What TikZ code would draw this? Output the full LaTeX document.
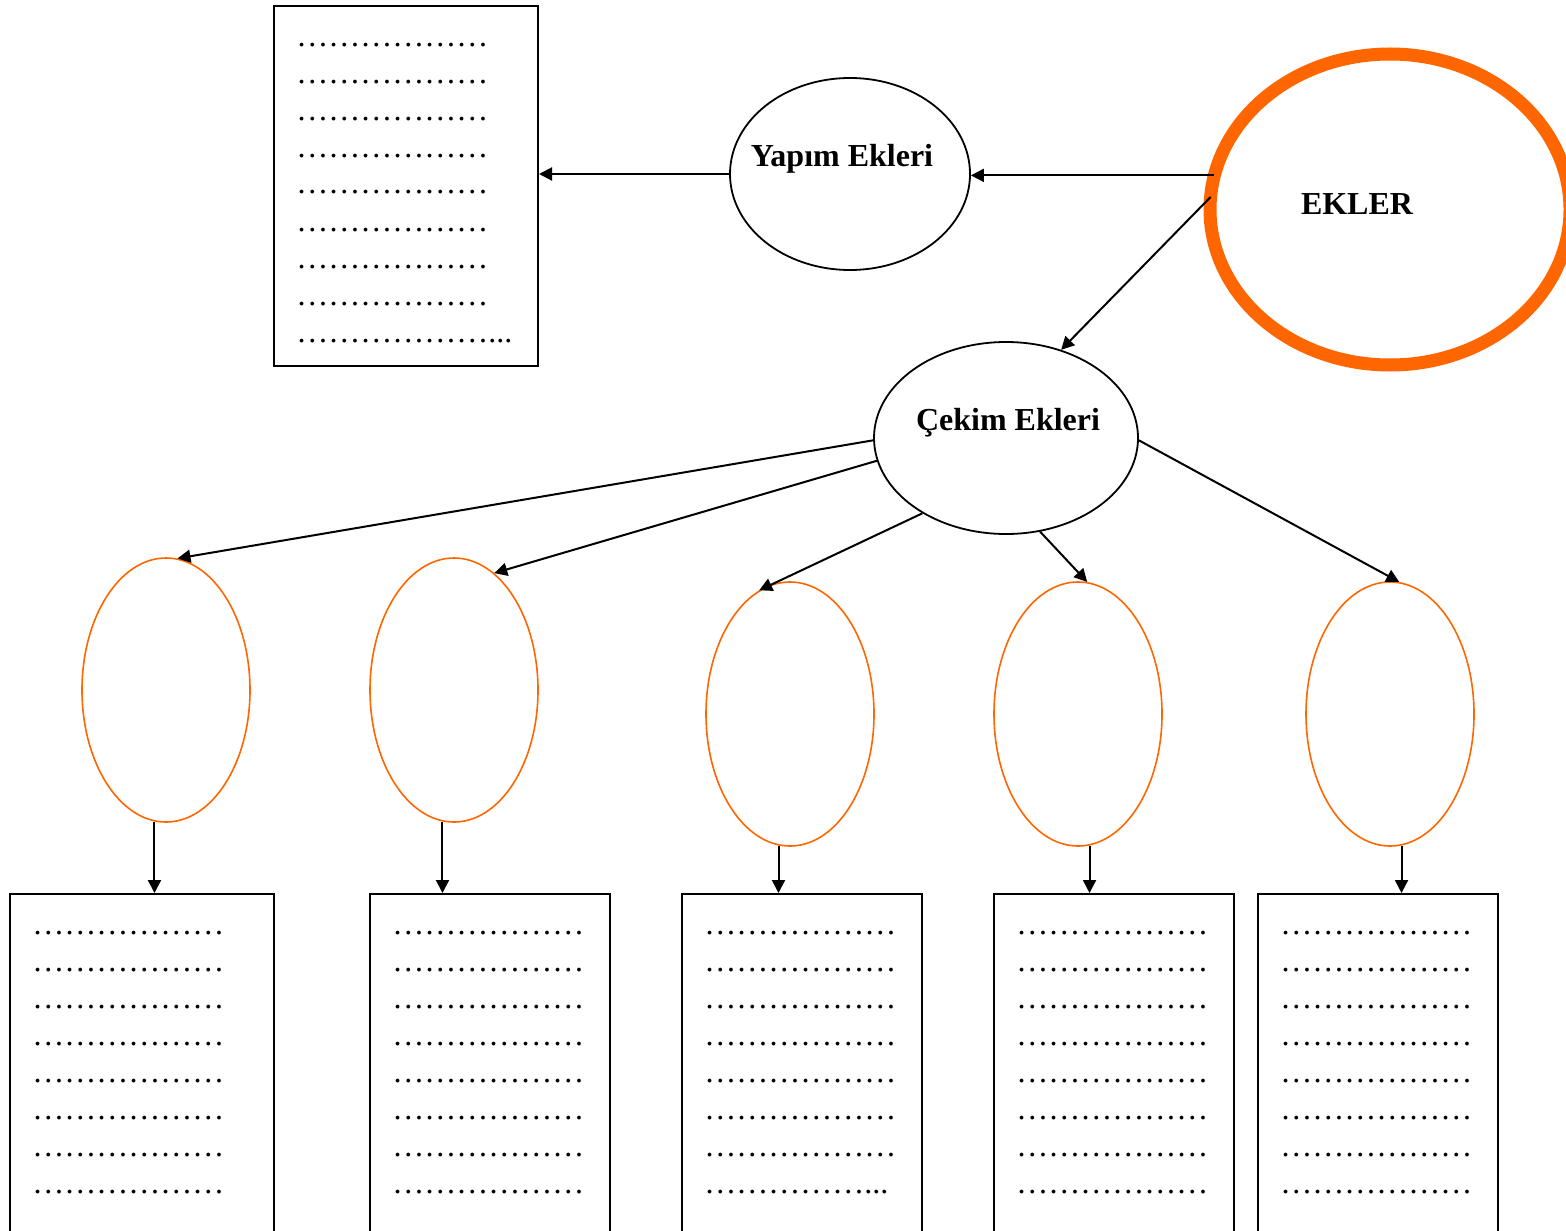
\documentclass[tikz,border=0pt]{standalone}
\usepackage{fontspec}
\setmainfont{Liberation Serif}
\usetikzlibrary{positioning,shapes.geometric,arrows.meta}
\definecolor{ekturuncu}{HTML}{FF6600}
\newcommand{\uc}{…}
\newcommand{\noktalar}{\uc\uc\uc\uc\uc\uc}
\newcommand{\sekizsatir}{\noktalar\\\noktalar\\\noktalar\\\noktalar\\\noktalar\\\noktalar\\\noktalar\\\noktalar}
\tikzset{
    box/.style={draw,line width=1pt,inner sep=0pt,minimum width=120pt,minimum height=173pt},
    mainoval/.style={ellipse,draw,line width=0.9pt,inner sep=0pt,minimum height=96pt},
    suboval/.style={ellipse,draw=ekturuncu,line width=0.8pt,inner sep=0pt,minimum width=84pt,minimum height=132pt},
    dots/.style={anchor=base west,align=left,inner sep=0pt,font=\fontsize{16}{18.5}\selectfont},
    lbl/.style={font=\fontsize{16}{19}\selectfont\bfseries,inner sep=0pt},
    arrow/.style={-{Triangle[length=6.5pt,width=6.5pt]},line width=1pt}
}

\begin{document}
\begin{tikzpicture}[x=0.5pt,y=-0.5pt]
  \useasboundingbox (0,0) rectangle (1566,1230);
  \clip (0,0) rectangle (1566,1230);

  % ust kisim
  \node[box,minimum width=132pt,minimum height=180pt] (ustkutu) at (406,186) {};
  % base = son satirin tabani
  \node[dots] (ustnokta) at ([shift={(23,337)}]ustkutu.north west)
    {\noktalar\\\noktalar\\\noktalar\\\noktalar\\\noktalar\\\noktalar\\\noktalar\\\noktalar\\\noktalar...};
  \node[mainoval,minimum width=120pt] (yapim) at (850,174) {};
  \node[lbl] (yapimyazi) at ([shift={(-8,-15)}]yapim.center) {Yapım Ekleri};
  \node[ellipse,draw=ekturuncu,line width=6.5pt,outer sep=0pt,inner sep=0pt,
        minimum width=180pt,minimum height=155.5pt] (ekler) at (1390,209.5) {};
  \node[lbl] (ekleryazi) at ([shift={(-33,-5)}]ekler.center) {EKLER};
  \node[mainoval,minimum width=132pt] (cekim) at (1006,438) {};
  \node[lbl] (cekimyazi) at ([shift={(2,-15)}]cekim.center) {Çekim Ekleri};

  % alt ovaller
  \node[suboval] (o1) at (166,690) {};
  \node[suboval] (o2) at (454,690) {};
  \node[suboval] (o3) at (790,714) {};
  \node[suboval] (o4) at (1078,714) {};
  \node[suboval] (o5) at (1390,714) {};

  % alt kutular
  \node[box,minimum width=132pt] (k1) at (142,1067) {};
  \node[box] (k2) at (490,1067) {};
  \node[box] (k3) at (802,1067) {};
  \node[box] (k4) at (1114,1067) {};
  \node[box] (k5) at (1378,1067) {};
  \node[dots] (n1) at ([shift={(23,300)}]k1.north west) {\sekizsatir};
  \node[dots] (n2) at ([shift={(23,300)}]k2.north west) {\sekizsatir};
  \node[dots] (n3) at ([shift={(23,300)}]k3.north west)
    {\noktalar\\\noktalar\\\noktalar\\\noktalar\\\noktalar\\\noktalar\\\noktalar\\\uc\uc\uc\uc\uc...};
  \node[dots] (n4) at ([shift={(23,300)}]k4.north west) {\sekizsatir};
  \node[dots] (n5) at ([shift={(23,300)}]k5.north west) {\sekizsatir};

  % oklar
  \draw[arrow] (ekler.169) -- (ekler.169 -| yapim.east);
  \draw[arrow] (yapim.west) -- (yapim.west -| ustkutu.east);
  \draw[arrow] (ekler.176) -- (cekim.58);
  \draw[arrow] (cekim.181) -- (o1.85);
  \draw[arrow] (cekim.190) -- (o2.71);
  \draw[arrow] (cekim.222) -- (o3.104);
  \draw[arrow] (cekim.290) -- (o4.86);
  \draw[arrow] (cekim.359) -- (o5.86);
  \draw[arrow] (o1.265) -- (o1.265 |- k1.north);
  \draw[arrow] (o2.265) -- (o2.265 |- k2.north);
  \draw[arrow] (o3.265) -- (o3.265 |- k3.north);
  \draw[arrow] (o4.275) -- (o4.275 |- k4.north);
  \draw[arrow] (o5.275) -- (o5.275 |- k5.north);
\end{tikzpicture}
\end{document}
